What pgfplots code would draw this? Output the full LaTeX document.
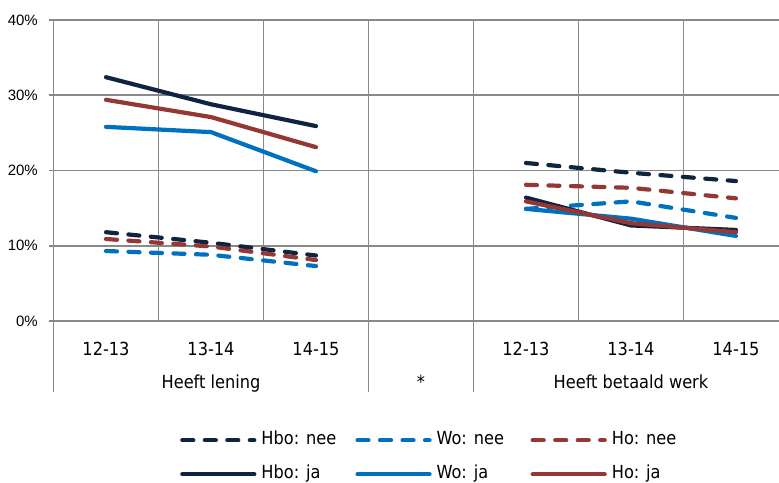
\documentclass[border=0pt]{standalone}
\usepackage{pgfplots}
\pgfplotsset{compat=1.18}
\usepackage{fontspec}
\setmainfont{DejaVu Sans Condensed}
\newfontfamily\yfont{Liberation Sans}

\definecolor{navy}{HTML}{10243F}
\definecolor{wblue}{HTML}{0070C0}
\definecolor{hored}{HTML}{953735}
\definecolor{gridgray}{HTML}{898989}

\begin{document}
\begin{tikzpicture}
\path[use as bounding box] (-53.5pt,-161pt) rectangle (725.5pt,321pt);
\begin{axis}[
  at={(0pt,0pt)}, anchor=south west,
  scale only axis, width=725.5pt, height=301pt,
  xmin=-0.5, xmax=6.41, ymin=0, ymax=40,
  clip=false,
  axis x line*=bottom, axis y line*=left,
  axis line style={gridgray, line width=1.7pt},
  xtick={0,1,2,4,5,6},
  xticklabels={12-13,13-14,14-15,12-13,13-14,14-15},
  minor xtick={0.5,1.5,2.5,3.5,4.5,5.5},
  xminorgrids, ymajorgrids,
  minor grid style={gridgray, line width=1.7pt},
  major grid style={gridgray, line width=1.7pt},
  major x tick style={draw=none}, minor x tick style={draw=none},
  ytick={0,10,20,30,40},
  /pgf/number format/assume math mode=true,
  yticklabel={\pgfmathprintnumber{\tick}\%},
  yticklabel style={font=\yfont\fontsize{15}{18}\selectfont, anchor=east, inner sep=0pt, xshift=-11.5pt},
  xticklabel style={font=\fontsize{18}{21}\selectfont, anchor=base, yshift=-30pt},
  tick align=outside, major tick length=4pt,
  major y tick style={gridgray, line width=1.7pt},
  unbounded coords=jump,
  every axis plot/.append style={line width=4.2pt, line join=round, line cap=round},
  nee/.style={dash pattern=on 11pt off 11.5pt},
  legend image code/.code={\draw[#1] (0pt,0pt) -- (72pt,0pt);},
  legend columns=3,
  legend style={at={(0.1744,-0.369)}, anchor=north west, draw=none, fill=none,
    inner sep=0pt, cells={anchor=west}, row sep=18pt,
    nodes={inner sep=0pt, text height=12pt, text depth=4pt, font=\fontsize{18}{21}\selectfont},
    /tikz/every odd column/.append style={column sep=5pt}},
]
\addplot[navy, nee] coordinates {(0,11.8) (1,10.4) (2,8.7) (3,nan) (4,21.0) (5,19.7) (6,18.6)};
\addlegendentry{\makebox[94pt][l]{Hbo: nee}}
\addplot[wblue, nee] coordinates {(0,9.3) (1,8.8) (2,7.3) (3,nan) (4,14.9) (5,15.9) (6,13.7)};
\addlegendentry{\makebox[94pt][l]{Wo: nee}}
\addplot[hored, nee] coordinates {(0,10.9) (1,9.9) (2,8.1) (3,nan) (4,18.1) (5,17.7) (6,16.3)};
\addlegendentry{\makebox[94pt][l]{Ho: nee}}
\addplot[navy] coordinates {(0,32.4) (1,28.8) (2,25.9) (3,nan) (4,16.4) (5,12.7) (6,12.1)};
\addlegendentry{\makebox[94pt][l]{Hbo: ja}}
\addplot[wblue] coordinates {(0,25.8) (1,25.1) (2,19.9) (3,nan) (4,14.9) (5,13.6) (6,11.3)};
\addlegendentry{\makebox[94pt][l]{Wo: ja}}
\addplot[hored] coordinates {(0,29.4) (1,27.1) (2,23.1) (3,nan) (4,15.9) (5,13.0) (6,11.8)};
\addlegendentry{\makebox[94pt][l]{Ho: ja}}

% group separators and labels below the axis
\draw[gridgray, line width=1.7pt] (axis cs:-0.5,0) -- ++(0pt,-71pt);
\draw[gridgray, line width=1.7pt] (axis cs:2.5,0) -- ++(0pt,-71pt);
\draw[gridgray, line width=1.7pt] (axis cs:3.5,0) -- ++(0pt,-71pt);
\node[anchor=base, font=\fontsize{18}{21}\selectfont] at ([yshift=-67pt]axis cs:1,0) {Heeft lening};
\node[anchor=base, font=\fontsize{18}{21}\selectfont] at ([yshift=-67pt]axis cs:3,0) {*};
\node[anchor=base, font=\fontsize{18}{21}\selectfont] at ([yshift=-67pt]axis cs:5,0) {Heeft betaald werk};
\end{axis}
\end{tikzpicture}
\end{document}
